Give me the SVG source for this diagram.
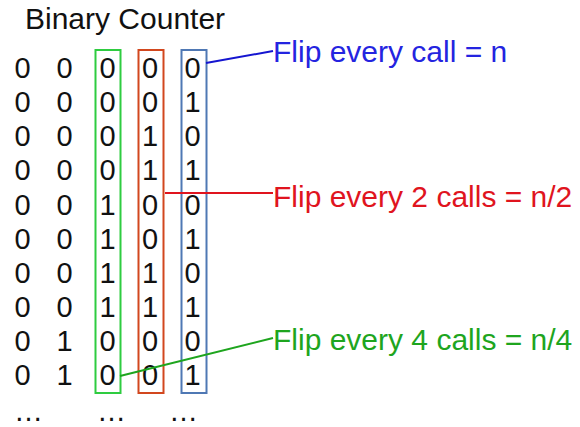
<svg xmlns="http://www.w3.org/2000/svg" width="580" height="427" viewBox="0 0 580 427">
<style>
  text { font-family: "Liberation Sans", Arial, sans-serif; }
  .title { font-size: 30px; fill: #111; }
  .d { font-size: 29px; fill: #111; text-anchor: middle; }
  .dots { font-size: 29px; fill: #111; }
  .box { fill: none; stroke-width: 2; }
  .lbl { font-size: 30px; }
  .conn { stroke-width: 2; fill: none; }
</style>
<rect width="580" height="427" fill="#ffffff"/>
<g id="title"><text class="title" x="25" y="29">Binary Counter</text></g>
<g id="table">
  <g id="col1">
    <text class="d" x="22.5" y="78">0</text><text class="d" x="22.5" y="112">0</text><text class="d" x="22.5" y="146">0</text><text class="d" x="22.5" y="180">0</text><text class="d" x="22.5" y="215">0</text><text class="d" x="22.5" y="249">0</text><text class="d" x="22.5" y="283">0</text><text class="d" x="22.5" y="317">0</text><text class="d" x="22.5" y="351">0</text><text class="d" x="22.5" y="385">0</text>
  </g>
  <g id="col2">
    <text class="d" x="64.5" y="78">0</text><text class="d" x="64.5" y="112">0</text><text class="d" x="64.5" y="146">0</text><text class="d" x="64.5" y="180">0</text><text class="d" x="64.5" y="215">0</text><text class="d" x="64.5" y="249">0</text><text class="d" x="64.5" y="283">0</text><text class="d" x="64.5" y="317">0</text><text class="d" x="64.5" y="351">1</text><text class="d" x="64.5" y="385">1</text>
  </g>
  <g id="col3">
    <text class="d" x="107.5" y="78">0</text><text class="d" x="107.5" y="112">0</text><text class="d" x="107.5" y="146">0</text><text class="d" x="107.5" y="180">0</text><text class="d" x="107.5" y="215">1</text><text class="d" x="107.5" y="249">1</text><text class="d" x="107.5" y="283">1</text><text class="d" x="107.5" y="317">1</text><text class="d" x="107.5" y="351">0</text><text class="d" x="107.5" y="385">0</text>
  </g>
  <g id="col4">
    <text class="d" x="150" y="78">0</text><text class="d" x="150" y="112">0</text><text class="d" x="150" y="146">1</text><text class="d" x="150" y="180">1</text><text class="d" x="150" y="215">0</text><text class="d" x="150" y="249">0</text><text class="d" x="150" y="283">1</text><text class="d" x="150" y="317">1</text><text class="d" x="150" y="351">0</text><text class="d" x="150" y="385">0</text>
  </g>
  <g id="col5">
    <text class="d" x="192.5" y="78">0</text><text class="d" x="192.5" y="112">1</text><text class="d" x="192.5" y="146">0</text><text class="d" x="192.5" y="180">1</text><text class="d" x="192.5" y="215">0</text><text class="d" x="192.5" y="249">1</text><text class="d" x="192.5" y="283">0</text><text class="d" x="192.5" y="317">1</text><text class="d" x="192.5" y="351">0</text><text class="d" x="192.5" y="385">1</text>
  </g>
  <g id="ellipses">
    <text class="dots" x="14" y="421">…</text>
    <text class="dots" x="97" y="421">…</text>
    <text class="dots" x="169" y="421">…</text>
  </g>
</g>
<g id="box-green"><rect class="box" x="95.5" y="50" width="25" height="343" stroke="#2ecc40"/></g>
<g id="box-red"><rect class="box" x="138.5" y="50" width="25" height="343" stroke="#d2471e"/></g>
<g id="box-blue"><rect class="box" x="181.5" y="50" width="25" height="343" stroke="#4f78b4"/></g>
<g id="connectors">
  <line class="conn" x1="206" y1="63" x2="273" y2="51" stroke="#1515d0"/>
  <line class="conn" x1="165" y1="193" x2="273" y2="193" stroke="#e0141e"/>
  <line class="conn" x1="120" y1="376" x2="273" y2="338" stroke="#1ea51e"/>
</g>
<g id="label-n"><text class="lbl" x="273" y="62" fill="#2424e0">Flip every call = n</text></g>
<g id="label-n2"><text class="lbl" x="273" y="207" fill="#e0141e">Flip every 2 calls = n/2</text></g>
<g id="label-n4"><text class="lbl" x="273" y="350" fill="#1ea51e">Flip every 4 calls = n/4</text></g>
</svg>
